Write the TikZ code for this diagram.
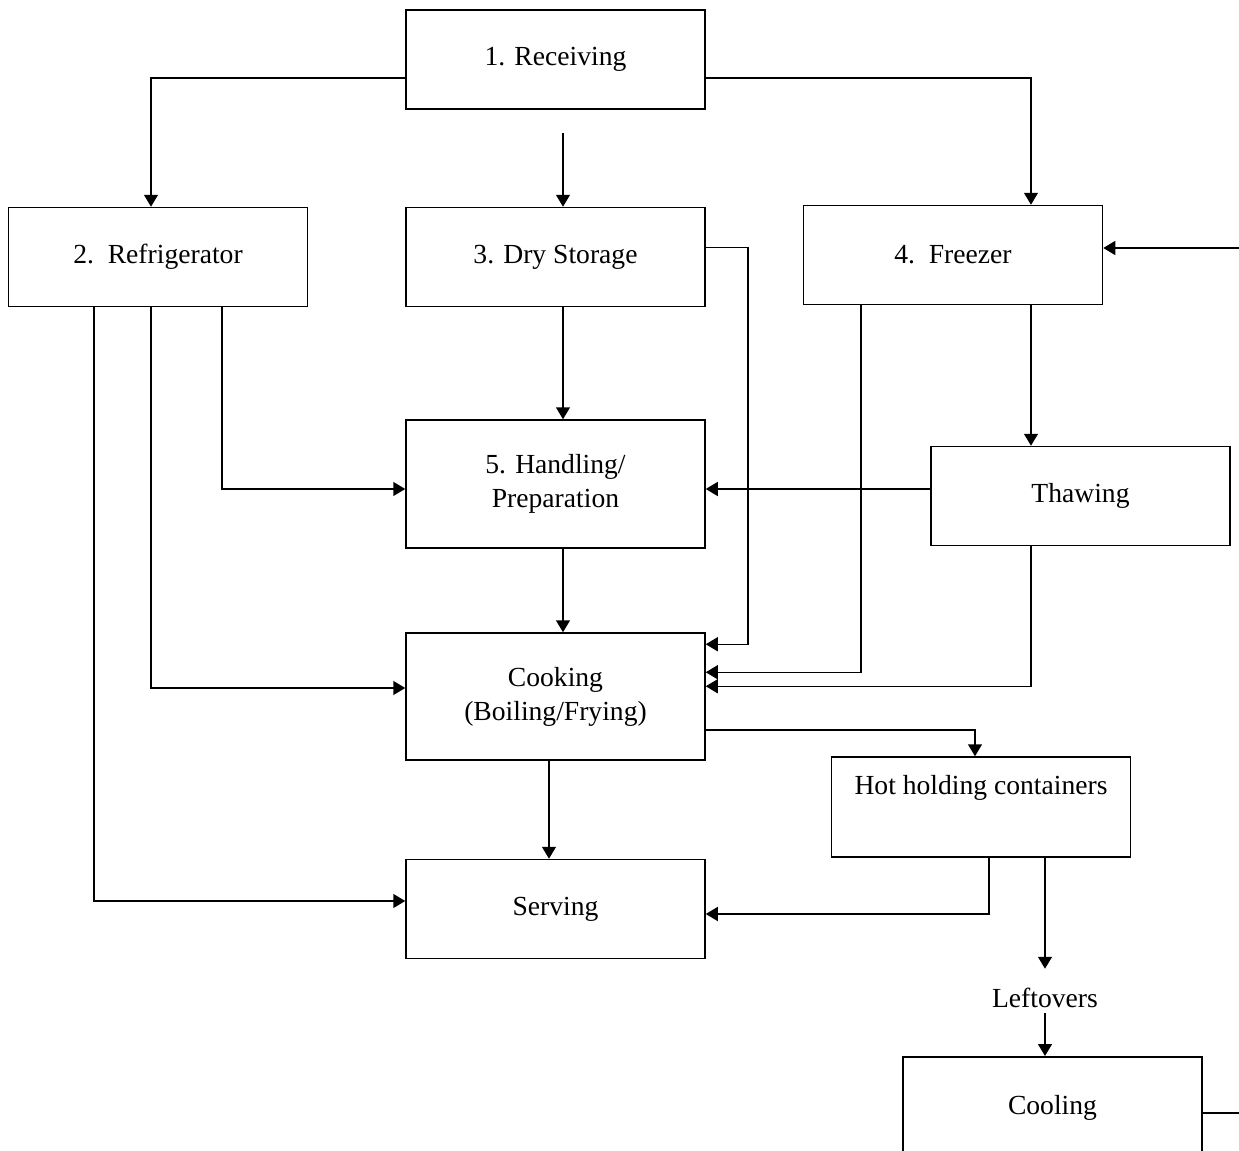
\documentclass[tikz,border=0pt]{standalone}
\usepackage{fontspec}
\setmainfont{Liberation Serif}
\usetikzlibrary{arrows.meta}

\begin{document}
\begin{tikzpicture}[
    x=0.5pt, y=-0.5pt,
    font=\fontsize{13.8}{17}\selectfont,
    block/.style={rectangle, draw, line width=0.75pt, minimum width=149.5pt, minimum height=49.5pt},
    line/.style={draw, -{Triangle[length=6pt,width=7pt]}, line width=0.75pt},
    wire/.style={draw, line width=0.75pt}
]
\useasboundingbox (0,0) rectangle (1239,1151);

\node [block] (rcv) at (555.5,59.5) {1. Receiving};
\node [block] (fridge) at (158,257) {2.\ \ Refrigerator};
\node [block] (dry) at (555.5,257) {3. Dry Storage};
\node [block] (freezer) at (953,255) {4.\ \ Freezer};
\node [block, minimum height=64pt, align=center] (prep) at (555.5,484) {5. Handling/\\Preparation};
\node [block] (thaw) at (1080.5,496) {Thawing};
\node [block, minimum height=63.5pt, align=center] (cook) at (555.5,696.5) {Cooking\\(Boiling/Frying)};
\node [block, inner sep=0pt, text height=18.5pt, text depth=31.5pt] (hot) at (981,807) {Hot holding containers};
\node [block] (serve) at (555.5,909) {Serving};
\node [inner sep=2.5pt] (left) at (1045,998) {Leftovers};
\node [block, anchor=north, inner sep=0pt, text height=29pt, text depth=27pt] (cool) at (1052.5,1056) {Cooling};

% free ends
\coordinate (gap) at (563,133);
\coordinate (fzin) at (1239,248);
\coordinate (coolout) at (1239,1113);

% out of receiving
\path [line] ([yshift=-9.25pt]rcv.west) -| ([xshift=-3.5pt]fridge.north);
\path [line] ([yshift=-9.25pt]rcv.east) -| ([xshift=39pt]freezer.north);
\path [line] (gap) -- (gap |- dry.north);

% middle column
\path [line] (dry.south -| gap) -- (prep.north -| gap);
\path [line] (prep.south -| gap) -- (cook.north -| gap);
\path [line] ([xshift=-3.25pt]cook.south) -- ([xshift=-3.25pt]serve.north);
\path [line] ([yshift=4.75pt]dry.east) -- ++(21pt,0) |- ([yshift=-6pt]cook.north east);

% refrigerator
\path [line] ([xshift=32pt]fridge.south) |- ([yshift=-2.5pt]prep.west);
\path [line] ([xshift=-3.5pt]fridge.south) |- ([yshift=4.25pt]cook.west);
\path [line] ([xshift=-32pt]fridge.south) |- ([yshift=4pt]serve.west);

% freezer and thawing
\path [line] (fzin) -- (fzin -| freezer.east);
\path [line] ([xshift=39pt]freezer.south) -- ([xshift=-24.75pt]thaw.north);
\path [line] ([xshift=-46pt]freezer.south) |- ([yshift=-20pt]cook.north east);
\path [line] ([yshift=3.5pt]thaw.west) -- ([yshift=3.5pt]thaw.west -| prep.east);
\path [line] ([xshift=-24.75pt]thaw.south) |- ([yshift=-27pt]cook.north east);

% hot holding and leftovers
\path [line] ([yshift=-16.75pt]cook.east) -| ([xshift=-3pt]hot.north);
\path [line] ([xshift=4pt]hot.south) |- ([yshift=-2.5pt]serve.east);
\path [line] ([xshift=32pt]hot.south) -- ([yshift=7pt]left.north);
\path [line] (left.south) -- (left.south |- cool.north);
\path [wire] (coolout -| cool.east) -- (coolout);

\end{tikzpicture}
\end{document}
